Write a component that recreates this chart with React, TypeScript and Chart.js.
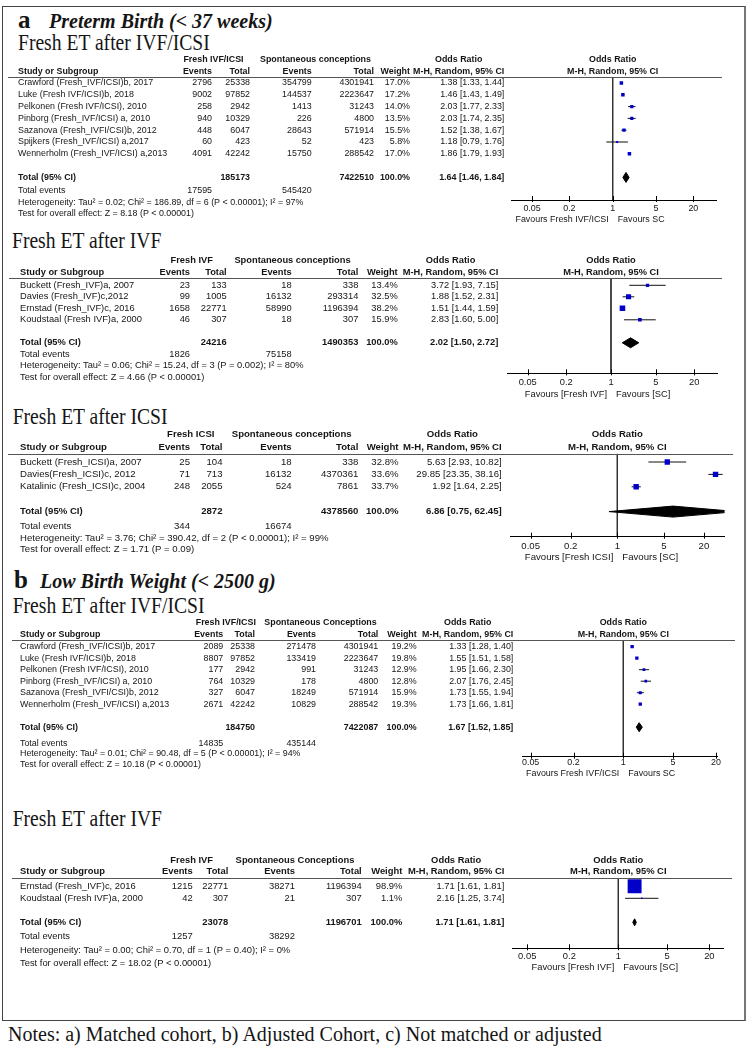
import React, { useEffect, useRef } from "react";
import { Chart, registerables } from "chart.js";
Chart.register(...registerables);

// ---------------- DATA ----------------
const tickValues = [0.05, 0.2, 1, 5, 20];

// (a) Preterm birth — Fresh ET after IVF/ICSI
const a1Studies = ["Crawford (Fresh_IVF/ICSI)b, 2017", "Luke (Fresh IVF/ICSI)b, 2018", "Pelkonen (Fresh IVF/ICSI), 2010", "Pinborg (Fresh_IVF/ICSI) a, 2010", "Sazanova (Fresh_IVFI/CSI)b, 2012", "Spijkers (Fresh_IVF/ICSI) a,2017", "Wennerholm (Fresh_IVF/ICSI) a,2013"];
const a1Events = [2796, 9002, 258, 940, 448, 60, 4091];
const a1Totals = [25338, 97852, 2942, 10329, 6047, 423, 42242];
const a1ScEvents = [354799, 144537, 1413, 226, 28643, 52, 15750];
const a1ScTotals = [4301941, 2223647, 31243, 4800, 571914, 423, 288542];
const a1Weights = [17.0, 17.2, 14.0, 13.5, 15.5, 5.8, 17.0];
const a1OR = [1.38, 1.46, 2.03, 2.03, 1.52, 1.18, 1.86];
const a1Lo = [1.33, 1.43, 1.77, 1.74, 1.38, 0.79, 1.79];
const a1Hi = [1.44, 1.49, 2.33, 2.35, 1.67, 1.76, 1.93];
const a1Pooled = [1.64, 1.46, 1.84];
const a1Sums = [185173, 7422510];
const a1TotalEvents = [17595, 545420];
const a1Het = "Heterogeneity: Tau² = 0.02; Chi² = 186.89, df = 6 (P < 0.00001); I² = 97%";
const a1Test = "Test for overall effect: Z = 8.18 (P < 0.00001)";

// (a) Preterm birth — Fresh ET after IVF
const a2Studies = ["Buckett (Fresh_IVF)a, 2007", "Davies (Fresh_IVF)c,2012", "Ernstad (Fresh_IVF)c, 2016", "Koudstaal (Fresh IVF)a, 2000"];
const a2Events = [23, 99, 1658, 46];
const a2Totals = [133, 1005, 22771, 307];
const a2ScEvents = [18, 16132, 58990, 18];
const a2ScTotals = [338, 293314, 1196394, 307];
const a2Weights = [13.4, 32.5, 38.2, 15.9];
const a2OR = [3.72, 1.88, 1.51, 2.83];
const a2Lo = [1.93, 1.52, 1.44, 1.60];
const a2Hi = [7.15, 2.31, 1.59, 5.00];
const a2Pooled = [2.02, 1.50, 2.72];
const a2Sums = [24216, 1490353];
const a2TotalEvents = [1826, 75158];
const a2Het = "Heterogeneity: Tau² = 0.06; Chi² = 15.24, df = 3 (P = 0.002); I² = 80%";
const a2Test = "Test for overall effect: Z = 4.66 (P < 0.00001)";

// (a) Preterm birth — Fresh ET after ICSI
const a3Studies = ["Buckett (Fresh_ICSI)a, 2007", "Davies(Fresh_ICSI)c, 2012", "Katalinic (Fresh_ICSI)c, 2004"];
const a3Events = [25, 71, 248];
const a3Totals = [104, 713, 2055];
const a3ScEvents = [18, 16132, 524];
const a3ScTotals = [338, 4370361, 7861];
const a3Weights = [32.8, 33.6, 33.7];
const a3OR = [5.63, 29.85, 1.92];
const a3Lo = [2.93, 23.35, 1.64];
const a3Hi = [10.82, 38.16, 2.25];
const a3Pooled = [6.86, 0.75, 62.45];
const a3Sums = [2872, 4378560];
const a3TotalEvents = [344, 16674];
const a3Het = "Heterogeneity: Tau² = 3.76; Chi² = 390.42, df = 2 (P < 0.00001); I² = 99%";
const a3Test = "Test for overall effect: Z = 1.71 (P = 0.09)";

// (b) Low birth weight — Fresh ET after IVF/ICSI
const b1Studies = ["Crawford (Fresh_IVF/ICSI)b, 2017", "Luke (Fresh IVF/ICSI)b, 2018", "Pelkonen (Fresh IVF/ICSI), 2010", "Pinborg (Fresh_IVF/ICSI) a, 2010", "Sazanova (Fresh_IVFI/CSI)b, 2012", "Wennerholm (Fresh_IVF/ICSI) a,2013"];
const b1Events = [2089, 8807, 177, 764, 327, 2671];
const b1Totals = [25338, 97852, 2942, 10329, 6047, 42242];
const b1ScEvents = [271478, 133419, 991, 178, 18249, 10829];
const b1ScTotals = [4301941, 2223647, 31243, 4800, 571914, 288542];
const b1Weights = [19.2, 19.8, 12.9, 12.8, 15.9, 19.3];
const b1OR = [1.33, 1.55, 1.95, 2.07, 1.73, 1.73];
const b1Lo = [1.28, 1.51, 1.66, 1.76, 1.55, 1.66];
const b1Hi = [1.40, 1.58, 2.30, 2.45, 1.94, 1.81];
const b1Pooled = [1.67, 1.52, 1.85];
const b1Sums = [184750, 7422087];
const b1TotalEvents = [14835, 435144];
const b1Het = "Heterogeneity: Tau² = 0.01; Chi² = 90.48, df = 5 (P < 0.00001); I² = 94%";
const b1Test = "Test for overall effect: Z = 10.18 (P < 0.00001)";

// (b) Low birth weight — Fresh ET after IVF
const b2Studies = ["Ernstad (Fresh_IVF)c, 2016", "Koudstaal (Fresh IVF)a, 2000"];
const b2Events = [1215, 42];
const b2Totals = [22771, 307];
const b2ScEvents = [38271, 21];
const b2ScTotals = [1196394, 307];
const b2Weights = [98.9, 1.1];
const b2OR = [1.71, 2.16];
const b2Lo = [1.61, 1.25];
const b2Hi = [1.81, 3.74];
const b2Pooled = [1.71, 1.61, 1.81];
const b2Sums = [23078, 1196701];
const b2TotalEvents = [1257, 38292];
const b2Het = "Heterogeneity: Tau² = 0.00; Chi² = 0.70, df = 1 (P = 0.40); I² = 0%";
const b2Test = "Test for overall effect: Z = 18.02 (P < 0.00001)";

// ---------------- LAYOUT / STYLE ----------------
type Layout = {
  top: number; bottom: number; font: number;
  hdr1: number; hdr2: number; lineY: number; row0: number; rowH: number;
  totEvY: number; hetY: number; testY: number; axisY: number; tickLabelY: number; favY: number;
  lineX0: number; lineX1: number; studyX: number; evR: number; totR: number; scEvR: number; scTotR: number;
  wR: number; orR: number; g1C: number; g2C: number; oneX: number; ppd: number; x0: number; x1: number;
  sqK: number; dH: number;
};

type Panel = {
  studies: string[]; events: number[]; totals: number[]; scEvents: number[]; scTotals: number[];
  weights: number[]; or: number[]; lo: number[]; hi: number[]; pooled: number[]; sums: number[];
  totalEvents: number[]; het: string; test: string; group1: string; group2: string;
  favL: string; favR: string; L: Layout;
};

const panels: Panel[] = [
  {
    studies: a1Studies, events: a1Events, totals: a1Totals, scEvents: a1ScEvents, scTotals: a1ScTotals,
    weights: a1Weights, or: a1OR, lo: a1Lo, hi: a1Hi, pooled: a1Pooled, sums: a1Sums, totalEvents: a1TotalEvents,
    het: a1Het, test: a1Test, group1: "Fresh IVF/ICSI", group2: "Spontaneous conceptions",
    favL: "Favours Fresh IVF/ICSI", favR: "Favours SC",
    L: { top: 52, bottom: 230, font: 8.9, hdr1: 60, hdr2: 71.3, lineY: 77.3, row0: 83, rowH: 11.8,
      totEvY: 191, hetY: 202.3, testY: 213.3, axisY: 200, tickLabelY: 209, favY: 220,
      lineX0: 8, lineX1: 722, studyX: 18, evR: 212, totR: 250, scEvR: 311.7, scTotR: 374, wR: 410, orR: 504.3,
      g1C: 213.5, g2C: 315.5, oneX: 612.7, ppd: 62, x0: 511, x1: 716, sqK: 0.85, dH: 5 },
  },
  {
    studies: a2Studies, events: a2Events, totals: a2Totals, scEvents: a2ScEvents, scTotals: a2ScTotals,
    weights: a2Weights, or: a2OR, lo: a2Lo, hi: a2Hi, pooled: a2Pooled, sums: a2Sums, totalEvents: a2TotalEvents,
    het: a2Het, test: a2Test, group1: "Fresh IVF", group2: "Spontaneous conceptions",
    favL: "Favours [Fresh IVF]", favR: "Favours [SC]",
    L: { top: 252, bottom: 404, font: 9.3, hdr1: 260, hdr2: 272.3, lineY: 278.3, row0: 285.3, rowH: 11.5,
      totEvY: 354.5, hetY: 365.5, testY: 377, axisY: 373.3, tickLabelY: 382, favY: 394,
      lineX0: 9, lineX1: 722, studyX: 20, evR: 190, totR: 226.7, scEvR: 291.7, scTotR: 358.3, wR: 397.7, orR: 498.3,
      g1C: 191.7, g2C: 292.5, oneX: 611, ppd: 64, x0: 507, x1: 717, sqK: 0.9, dH: 5 },
  },
  {
    studies: a3Studies, events: a3Events, totals: a3Totals, scEvents: a3ScEvents, scTotals: a3ScTotals,
    weights: a3Weights, or: a3OR, lo: a3Lo, hi: a3Hi, pooled: a3Pooled, sums: a3Sums, totalEvents: a3TotalEvents,
    het: a3Het, test: a3Test, group1: "Fresh ICSI", group2: "Spontaneous conceptions",
    favL: "Favours [Fresh ICSI]", favR: "Favours [SC]",
    L: { top: 428, bottom: 568, font: 9.6, hdr1: 434.3, hdr2: 447.7, lineY: 453.7, row0: 462, rowH: 12.4,
      totEvY: 526.7, hetY: 538, testY: 549.5, axisY: 536.7, tickLabelY: 546, favY: 557,
      lineX0: 8, lineX1: 733, studyX: 20, evR: 190, totR: 222.5, scEvR: 291.7, scTotR: 358.3, wR: 398.5, orR: 501.7,
      g1C: 190.8, g2C: 291.7, oneX: 617.3, ppd: 66.6, x0: 510, x1: 724.5, sqK: 0.93, dH: 5.5 },
  },
  {
    studies: b1Studies, events: b1Events, totals: b1Totals, scEvents: b1ScEvents, scTotals: b1ScTotals,
    weights: b1Weights, or: b1OR, lo: b1Lo, hi: b1Hi, pooled: b1Pooled, sums: b1Sums, totalEvents: b1TotalEvents,
    het: b1Het, test: b1Test, group1: "Fresh IVF/ICSI", group2: "Spontaneous Conceptions",
    favL: "Favours Fresh IVF/ICSI", favR: "Favours SC",
    L: { top: 616, bottom: 784, font: 8.9, hdr1: 622.7, hdr2: 634.5, lineY: 640, row0: 646.7, rowH: 11.5,
      totEvY: 743.3, hetY: 754, testY: 765, axisY: 756.7, tickLabelY: 763, favY: 773.5,
      lineX0: 12, lineX1: 735, studyX: 20, evR: 223.3, totR: 255, scEvR: 316, scTotR: 378.3, wR: 416.7, orR: 513.3,
      g1C: 225.8, g2C: 320.5, oneX: 623.3, ppd: 71.2, x0: 522, x1: 717, sqK: 0.75, dH: 4.5 },
  },
  {
    studies: b2Studies, events: b2Events, totals: b2Totals, scEvents: b2ScEvents, scTotals: b2ScTotals,
    weights: b2Weights, or: b2OR, lo: b2Lo, hi: b2Hi, pooled: b2Pooled, sums: b2Sums, totalEvents: b2TotalEvents,
    het: b2Het, test: b2Test, group1: "Fresh IVF", group2: "Spontaneous Conceptions",
    favL: "Favours [Fresh IVF]", favR: "Favours [SC]",
    L: { top: 850, bottom: 980, font: 9.4, hdr1: 860, hdr2: 871.7, lineY: 878.3, row0: 886.3, rowH: 12,
      totEvY: 936.7, hetY: 950, testY: 963.3, axisY: 948.3, tickLabelY: 956.5, favY: 967,
      lineX0: 12, lineX1: 732, studyX: 20, evR: 192.7, totR: 228.3, scEvR: 295, scTotR: 361.7, wR: 402.3, orR: 504.3,
      g1C: 191.7, g2C: 295, oneX: 618.3, ppd: 70, x0: 512, x1: 723, sqK: 1.4, dH: 3.5 },
  },
];

const W = 750;
const AXIS_H = 14;
const SANS = '"Liberation Sans", Arial, Helvetica, sans-serif';
const SERIF = '"Liberation Serif", "Times New Roman", Times, serif';
const INK = "#151515";
const SQUARE = "#0000c8";

const fmtCI = (o: number, l: number, h: number) => `${o.toFixed(2)} [${l.toFixed(2)}, ${h.toFixed(2)}]`;

function drawTable(chart: any, p: Panel) {
  const ctx: CanvasRenderingContext2D = chart.ctx;
  const L = p.L;
  const T = L.top;
  const xs = chart.scales.x;
  const ys = chart.scales.y;
  const oneX = xs.getPixelForValue(1);
  const n = p.studies.length;
  const put = (s: string, x: number, y: number, align: CanvasTextAlign, bold = false) => {
    ctx.font = `${bold ? "bold " : ""}${L.font}px ${SANS}`;
    ctx.textAlign = align;
    ctx.fillText(s, x, y);
  };
  ctx.save();
  ctx.fillStyle = INK;
  ctx.textBaseline = "middle";

  // header row 1
  const h1 = L.hdr1 - T;
  const h2 = L.hdr2 - T;
  put(p.group1, L.g1C, h1, "center", true);
  put(p.group2, L.g2C, h1, "center", true);
  ctx.font = `bold ${L.font}px ${SANS}`;
  const mhW = ctx.measureText("M-H, Random, 95% CI").width;
  put("Odds Ratio", L.orR - mhW / 2, h1, "center", true);
  put("Odds Ratio", oneX, h1, "center", true);
  // header row 2
  put("Study or Subgroup", L.studyX, h2, "left", true);
  put("Events", L.evR, h2, "right", true);
  put("Total", L.totR, h2, "right", true);
  put("Events", L.scEvR, h2, "right", true);
  put("Total", L.scTotR, h2, "right", true);
  put("Weight", L.wR, h2, "right", true);
  put("M-H, Random, 95% CI", L.orR, h2, "right", true);
  put("M-H, Random, 95% CI", oneX, h2, "center", true);

  // header rule
  ctx.strokeStyle = "#555";
  ctx.lineWidth = 1;
  const ly = Math.round(L.lineY - T) + 0.5;
  ctx.beginPath();
  ctx.moveTo(L.lineX0, ly);
  ctx.lineTo(L.lineX1, ly);
  ctx.stroke();

  // study rows
  for (let i = 0; i < n; i++) {
    const y = ys.getPixelForValue(i);
    put(p.studies[i], L.studyX, y, "left");
    put(String(p.events[i]), L.evR, y, "right");
    put(String(p.totals[i]), L.totR, y, "right");
    put(String(p.scEvents[i]), L.scEvR, y, "right");
    put(String(p.scTotals[i]), L.scTotR, y, "right");
    put(`${p.weights[i].toFixed(1)}%`, L.wR, y, "right");
    put(fmtCI(p.or[i], p.lo[i], p.hi[i]), L.orR, y, "right");
  }
  // total row
  const ty = ys.getPixelForValue(n + 1);
  put("Total (95% CI)", L.studyX, ty, "left", true);
  put(String(p.sums[0]), L.totR, ty, "right", true);
  put(String(p.sums[1]), L.scTotR, ty, "right", true);
  put("100.0%", L.wR, ty, "right", true);
  put(fmtCI(p.pooled[0], p.pooled[1], p.pooled[2]), L.orR, ty, "right", true);
  // total events & tests
  put("Total events", L.studyX, L.totEvY - T, "left");
  put(String(p.totalEvents[0]), L.evR, L.totEvY - T, "right");
  put(String(p.totalEvents[1]), L.scEvR, L.totEvY - T, "right");
  put(p.het, L.studyX, L.hetY - T, "left");
  put(p.test, L.studyX, L.testY - T, "left");

  // favours labels
  put(p.favL, oneX - 4, L.favY - T, "right");
  put(p.favR, oneX + 5, L.favY - T, "left");

  // tick marks crossing the axis line
  const ay = xs.top;
  ctx.strokeStyle = "#000";
  ctx.beginPath();
  for (const t of xs.ticks) {
    const px = Math.round(xs.getPixelForValue(t.value)) + 0.5;
    ctx.moveTo(px, ay - 4);
    ctx.lineTo(px, ay + 2);
  }
  ctx.stroke();
  ctx.restore();
}

function buildConfig(p: Panel): any {
  const L = p.L;
  const n = p.studies.length;
  const xMin = Math.pow(10, (L.x0 - L.oneX) / L.ppd);
  const xMax = Math.pow(10, (L.x1 - L.oneX) / L.ppd);
  const yMin = (L.lineY - L.row0) / L.rowH;
  const yMax = (L.axisY - L.row0) / L.rowH;
  const tIdx = n + 1;
  const dh = L.dH / L.rowH;
  const datasets: any[] = [];
  // squares (drawn on top)
  datasets.push({
    data: p.or.map((v, i) => ({ x: v, y: i })),
    showLine: false,
    pointStyle: "rect",
    pointRadius: p.weights.map((w) => (L.sqK * Math.sqrt(w)) / Math.SQRT2),
    pointBackgroundColor: SQUARE,
    pointBorderWidth: 0,
    pointBorderColor: SQUARE,
  });
  // pooled diamond
  datasets.push({
    data: [
      { x: p.pooled[1], y: tIdx },
      { x: p.pooled[0], y: tIdx - dh },
      { x: p.pooled[2], y: tIdx },
      { x: p.pooled[0], y: tIdx + dh },
      { x: p.pooled[1], y: tIdx },
    ],
    borderColor: "#000",
    backgroundColor: "#000",
    borderWidth: 1,
    pointRadius: 0,
    fill: "shape",
    tension: 0,
  });
  // confidence intervals
  p.studies.forEach((_, i) => {
    datasets.push({
      data: [{ x: p.lo[i], y: i }, { x: p.hi[i], y: i }],
      borderColor: "#111",
      borderWidth: 1,
      pointRadius: 0,
    });
  });
  // line of no effect
  datasets.push({
    data: [{ x: 1, y: yMin }, { x: 1, y: yMax }],
    borderColor: "#333",
    borderWidth: 1,
    pointRadius: 0,
  });

  const tickPad = Math.max(0, L.tickLabelY - L.axisY - L.font * 0.6);

  return {
    type: "line",
    data: { datasets },
    options: {
      responsive: false,
      animation: false,
      devicePixelRatio: 1,
      events: [],
      layout: {
        padding: { left: L.x0, right: W - L.x1, top: L.lineY - L.top, bottom: L.bottom - L.axisY - AXIS_H },
      },
      plugins: { legend: { display: false }, tooltip: { enabled: false }, title: { display: false } },
      scales: {
        x: {
          type: "logarithmic",
          min: xMin,
          max: xMax,
          bounds: "data",
          position: "bottom",
          afterBuildTicks: (s: any) => {
            s.ticks = tickValues.map((v) => ({ value: v }));
          },
          afterFit: (s: any) => {
            s.height = AXIS_H;
          },
          grid: { display: false, drawTicks: false },
          border: { display: true, color: "#000", width: 1 },
          ticks: {
            autoSkip: false,
            maxRotation: 0,
            minRotation: 0,
            padding: tickPad,
            color: INK,
            font: { family: SANS, size: L.font },
            callback: (v: any) => String(Number(v)),
          },
        },
        y: { type: "linear", display: false, reverse: true, min: yMin, max: yMax },
      },
    },
    plugins: [{ id: "forestTable", afterDraw: (chart: any) => drawTable(chart, p) }],
  };
}

function ForestPanel({ p }: { p: Panel }) {
  const ref = useRef<HTMLCanvasElement>(null);
  useEffect(() => {
    const chart = new Chart(ref.current as HTMLCanvasElement, buildConfig(p));
    return () => chart.destroy();
  }, [p]);
  const h = p.L.bottom - p.L.top;
  return (
    <canvas
      ref={ref}
      width={W}
      height={h}
      style={{ position: "absolute", left: 0, top: p.L.top, width: W, height: h, display: "block" }}
    />
  );
}

function Label({ x, base, fs, bold, italic, sy, text }: { x: number; base: number; fs: number; bold?: boolean; italic?: boolean; sy?: number; text: string }) {
  const off = 0.8375 * fs;
  return (
    <div
      style={{
        position: "absolute",
        left: x,
        top: base - off,
        fontFamily: SERIF,
        fontSize: fs,
        lineHeight: `${fs}px`,
        fontWeight: bold ? "bold" : "normal",
        fontStyle: italic ? "italic" : "normal",
        whiteSpace: "nowrap",
        color: INK,
        transform: sy ? `scaleY(${sy})` : undefined,
        transformOrigin: `0 ${off}px`,
      }}
    >
      {text}
    </div>
  );
}

export default function App() {
  useEffect(() => {
    document.body.style.margin = "0";
  }, []);
  return (
    <div style={{ position: "relative", width: W, height: 1046, background: "#fff", overflow: "hidden" }}>
      <style>{"body{margin:0}"}</style>
      <div
        style={{
          position: "absolute",
          left: 2,
          top: 6,
          width: 744,
          height: 1015,
          boxSizing: "border-box",
          borderLeft: "1px solid #444",
          borderTop: "1px solid #444",
          borderBottom: "1px solid #444",
          borderRight: "2px solid #777",
        }}
      />
      <Label x={18} base={28.3} fs={25} bold text="a" />
      <Label x={49} base={27.5} fs={20} bold italic text="Preterm Birth (< 37 weeks)" />
      <Label x={18} base={50} fs={19.6} sy={1.2} text="Fresh ET after IVF/ICSI" />
      <Label x={12} base={248} fs={19.6} sy={1.2} text="Fresh ET after IVF" />
      <Label x={12.7} base={424} fs={19.6} sy={1.2} text="Fresh ET after ICSI" />
      <Label x={14} base={588} fs={25} bold text="b" />
      <Label x={40} base={588} fs={20} bold italic text="Low Birth Weight (< 2500 g)" />
      <Label x={12.7} base={613.3} fs={19.6} sy={1.2} text="Fresh ET after IVF/ICSI" />
      <Label x={12.7} base={826.7} fs={19.6} sy={1.2} text="Fresh ET after IVF" />
      <Label x={8} base={1040.7} fs={20} text="Notes: a) Matched cohort, b) Adjusted Cohort, c) Not matched or adjusted" />
      {panels.map((p, i) => (
        <ForestPanel key={i} p={p} />
      ))}
    </div>
  );
}
